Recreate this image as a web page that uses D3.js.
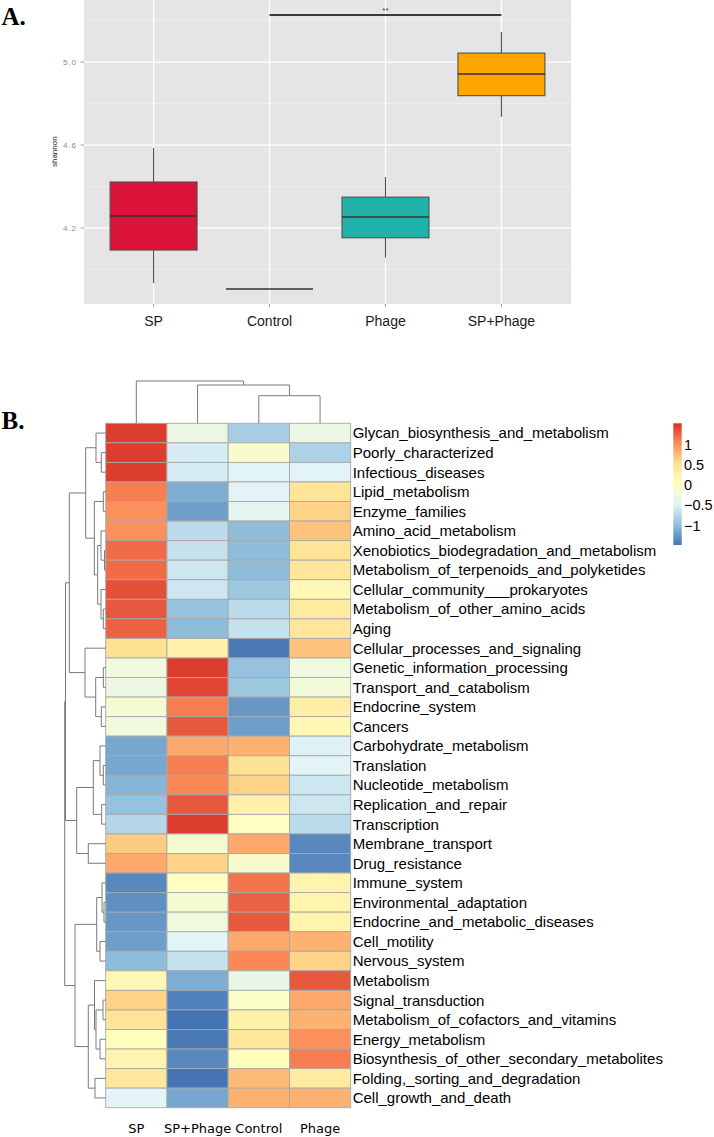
<!DOCTYPE html>
<html><head><meta charset="utf-8">
<script src="https://cdn.jsdelivr.net/npm/d3@7"></script>
<style>body{margin:0;background:#fff} svg{display:block}</style>
</head><body><svg id="c" width="714" height="1137"></svg>
<script>
// ---------- Panel A data ----------
const groups = ["SP","Control","Phage","SP+Phage"];
const boxFill = ["#DC143C","#DC143C","#20B2AA","#FFA500"];
const whiskerLow  = [3.935, 3.906, 4.057, 4.736];
const q1          = [4.094, 3.906, 4.153, 4.838];
const medianVal   = [4.258, 3.906, 4.253, 4.942];
const q3          = [4.422, 3.906, 4.349, 5.043];
const whiskerHigh = [4.586, 3.906, 4.446, 5.145];
const yTicks = [4.2, 4.6, 5.0];
const yMinor = [4.0, 4.4, 4.8, 5.2];
const sigPair = ["Control","SP+Phage"];
const sigLevel = 5.227;
const sigText = "**";

// ---------- Panel B data ----------
const heatCols = ["SP","SP+Phage","Control","Phage"];
const rowNames = ["Glycan_biosynthesis_and_metabolism","Poorly_characterized","Infectious_diseases","Lipid_metabolism","Enzyme_families","Amino_acid_metabolism","Xenobiotics_biodegradation_and_metabolism","Metabolism_of_terpenoids_and_polyketides","Cellular_community___prokaryotes","Metabolism_of_other_amino_acids","Aging","Cellular_processes_and_signaling","Genetic_information_processing","Transport_and_catabolism","Endocrine_system","Cancers","Carbohydrate_metabolism","Translation","Nucleotide_metabolism","Replication_and_repair","Transcription","Membrane_transport","Drug_resistance","Immune_system","Environmental_adaptation","Endocrine_and_metabolic_diseases","Cell_motility","Nervous_system","Metabolism","Signal_transduction","Metabolism_of_cofactors_and_vitamins","Energy_metabolism","Biosynthesis_of_other_secondary_metabolites","Folding,_sorting_and_degradation","Cell_growth_and_death"];
const valSP      = [1.45,1.45,1.45,1.1,1.0,1.0,1.2,1.2,1.35,1.3,1.25,0.5,-0.25,-0.3,-0.15,-0.25,-1.15,-1.15,-1.05,-0.95,-0.75,0.65,0.85,-1.35,-1.3,-1.25,-1.2,-1.0,0.15,0.6,0.45,0.05,0.2,0.4,-0.45];
const valSPPhage = [-0.3,-0.55,-0.55,-1.1,-1.2,-0.7,-0.65,-0.6,-0.6,-0.95,-1.0,0.25,1.45,1.4,1.1,1.3,0.85,1.1,1.05,1.3,1.45,-0.15,0.6,0.0,-0.15,-0.25,-0.45,-0.65,-1.1,-1.4,-1.5,-1.45,-1.35,-1.5,-1.15];
const valControl = [-0.85,-0.1,-0.45,-0.45,-0.4,-1.0,-1.0,-1.0,-0.9,-0.7,-0.65,-1.45,-0.95,-0.9,-1.25,-1.2,0.8,0.5,0.6,0.25,0.0,0.85,-0.1,1.15,1.25,1.3,0.85,1.05,-0.35,-0.05,0.25,0.4,0.05,0.75,0.8];
const valPhage   = [-0.3,-0.8,-0.45,0.45,0.6,0.7,0.45,0.4,0.15,0.35,0.4,0.7,-0.25,-0.2,0.3,0.15,-0.5,-0.45,-0.6,-0.6,-0.7,-1.35,-1.35,0.2,0.2,0.2,0.8,0.6,1.3,0.85,0.8,1.0,1.1,0.35,0.8];
const legendTicks = [-1, -0.5, 0, 0.5, 1];
const legendLabels = ["\u22121", "\u22120.5", "0", "0.5", "1"];
const colorRange = [-1.48, 1.52];
const palette = ["#4575b4","#91bfdb","#e0f3f8","#ffffbf","#fee090","#fc8d59","#d73027"];
// dendrograms: [left, right, mergeHeight]; leaves are indices
const colTree = [0, [1, [2, 3, 27.6], 38.3], 42.3];
const rowTree = [
  [
    [
      [[0, [1, 2, 4.4], 9.7],
       [[3, 4, 2.4], [[5, [6, 7, 1.2], 4.7], [8, [9, 10, 2.4], 4.7], 8], 11.4], 20],
      [11, [[12, 13, 2.4], [14, 15, 4.4], 10], 20.7], 36.4],
    [[[16, [17, 18, 2.4], 5.7], [19, 20, 4], 12.4], [21, 22, 17.4], 29], 40.2],
  [
    [[23, [24, 25, 1.7], 3.7], [26, 27, 5.7], 9],
    [[28, [[29, 30, 2.7], [31, 32, 5.7], 9.7], 11.2], [33, 34, 10.7], 17.4], 30.7],
  41];

const svg = d3.select("#c");
svg.append("rect").attr("width",714).attr("height",1137).attr("fill","#fff");
const sans = "'Liberation Sans', Arial, Helvetica, sans-serif";
const serif = "'Liberation Serif', 'Times New Roman', serif";

// ================= Panel A =================
const pA = {l:84, r:571, t:0, b:304};
const x = d3.scalePoint().domain(groups).range([pA.l, pA.r]).padding(0.6);
const y = d3.scaleLinear().domain([3.834, 5.299]).range([pA.b, pA.t]);
const gA = svg.append("g");
gA.append("rect").attr("x",pA.l).attr("y",pA.t).attr("width",pA.r-pA.l).attr("height",pA.b-pA.t).attr("fill","#e5e5e5");
gA.selectAll(".mn").data(yMinor).join("line")
  .attr("x1",pA.l).attr("x2",pA.r).attr("y1",d=>y(d)).attr("y2",d=>y(d))
  .attr("stroke","#f2f2f2").attr("stroke-width",0.7);
gA.selectAll(".mj").data(yTicks).join("line")
  .attr("x1",pA.l).attr("x2",pA.r).attr("y1",d=>y(d)).attr("y2",d=>y(d))
  .attr("stroke","#fff").attr("stroke-width",1.3);
gA.selectAll(".vg").data(groups).join("line")
  .attr("x1",d=>x(d)).attr("x2",d=>x(d)).attr("y1",pA.t).attr("y2",pA.b)
  .attr("stroke","#fff").attr("stroke-width",1.3);

const bw = x.step()*0.75;
const boxes = gA.selectAll(".bx").data(groups).join("g");
boxes.append("line").attr("x1",d=>x(d)).attr("x2",d=>x(d))
  .attr("y1",(d,i)=>y(whiskerHigh[i])).attr("y2",(d,i)=>y(q3[i]))
  .attr("stroke","#505050").attr("stroke-width",1.1);
boxes.append("line").attr("x1",d=>x(d)).attr("x2",d=>x(d))
  .attr("y1",(d,i)=>y(q1[i])).attr("y2",(d,i)=>y(whiskerLow[i]))
  .attr("stroke","#505050").attr("stroke-width",1.1);
boxes.append("rect").attr("x",d=>x(d)-bw/2).attr("width",bw)
  .attr("y",(d,i)=>y(q3[i])).attr("height",(d,i)=>y(q1[i])-y(q3[i]))
  .attr("fill",(d,i)=>boxFill[i]).attr("stroke","#505050").attr("stroke-width",1.1);
boxes.append("line").attr("x1",d=>x(d)-bw/2).attr("x2",d=>x(d)+bw/2)
  .attr("y1",(d,i)=>y(medianVal[i])).attr("y2",(d,i)=>y(medianVal[i]))
  .attr("stroke","#333").attr("stroke-width",1.5);

// significance bar
gA.append("line").attr("x1",x(sigPair[0])).attr("x2",x(sigPair[1]))
  .attr("y1",y(sigLevel)).attr("y2",y(sigLevel)).attr("stroke","#000").attr("stroke-width",1.6);
gA.append("text").attr("x",(x(sigPair[0])+x(sigPair[1]))/2).attr("y",y(sigLevel)-1.5)
  .attr("text-anchor","middle").attr("font-family",sans).attr("font-size",8).attr("fill","#333").text(sigText);

// axes
gA.selectAll(".yt").data(yTicks).join("line")
  .attr("x1",pA.l-3.5).attr("x2",pA.l).attr("y1",d=>y(d)).attr("y2",d=>y(d))
  .attr("stroke","#808080").attr("stroke-width",0.8);
gA.selectAll(".ytl").data(yTicks).join("text")
  .attr("x",pA.l-7).attr("y",d=>y(d)+3).attr("text-anchor","end")
  .attr("font-family",sans).attr("font-size",8).attr("letter-spacing",1).attr("fill","#8a8a8a")
  .text(d=>d3.format(".1f")(d));
gA.selectAll(".xt").data(groups).join("line")
  .attr("x1",d=>x(d)).attr("x2",d=>x(d)).attr("y1",pA.b).attr("y2",pA.b+3)
  .attr("stroke","#808080").attr("stroke-width",0.8);
gA.selectAll(".xtl").data(groups).join("text")
  .attr("x",d=>x(d)).attr("y",326).attr("text-anchor","middle")
  .attr("font-family",sans).attr("font-size",14).attr("fill","#1a1a1a").text(d=>d);
gA.append("text").attr("transform","translate(56.5,151.7) rotate(-90)")
  .attr("text-anchor","middle").attr("font-family",sans).attr("font-size",8).attr("fill","#1a1a1a").text("shannon");
svg.append("text").attr("x",1.5).attr("y",25).attr("font-family",serif).attr("font-weight","bold")
  .attr("font-size",25).attr("fill","#000").text("A.");

// ================= Panel B =================
svg.append("text").attr("x",1.5).attr("y",428.5).attr("font-family",serif).attr("font-weight","bold")
  .attr("font-size",25).attr("fill","#000").text("B.");
const hx = d3.scaleBand().domain(heatCols).range([105.7, 350.7]);
const hy = d3.scaleBand().domain(rowNames).range([423.3, 1107.7]);
const stops = palette.map((c,i)=>colorRange[0] + i*(colorRange[1]-colorRange[0])/(palette.length-1));
const color = d3.scaleLinear().domain(stops).range(palette).interpolate(d3.interpolateRgb).clamp(true);
const colVals = [valSP, valSPPhage, valControl, valPhage];
const cells = [];
heatCols.forEach((c,j)=>rowNames.forEach((r,i)=>cells.push({c, r, v: colVals[j][i]})));
const gB = svg.append("g");
gB.selectAll("rect.cell").data(cells).join("rect")
  .attr("x",d=>hx(d.c)).attr("y",d=>hy(d.r)).attr("width",hx.bandwidth()).attr("height",hy.bandwidth())
  .attr("fill",d=>color(d.v)).attr("stroke","#a8a8a8").attr("stroke-width",0.9);
gB.selectAll("text.rl").data(rowNames).join("text")
  .attr("x",352.7).attr("y",d=>hy(d)+hy.bandwidth()/2+5.4)
  .attr("font-family",sans).attr("font-size",15).attr("fill","#000").text(d=>d);
gB.selectAll("text.cl").data(heatCols).join("text")
  .attr("x",d=>hx(d)+hx.bandwidth()/2).attr("y",1133)
  .attr("text-anchor","middle").attr("font-family","'DejaVu Sans', Verdana, sans-serif").attr("font-size",13)
  .attr("fill","#000").text(d=>d);

// dendrograms
const rowH = d3.scaleLinear().domain([0, 41]).range([105.7, 64.7]);
const colH = d3.scaleLinear().domain([0, 42.3]).range([423.3, 381]);
const rowSegs = [], colSegs = [];
function layRow(n){
  if (typeof n === "number") return {p: hy(rowNames[n]) + hy.bandwidth()/2, h: 0};
  const a = layRow(n[0]), b = layRow(n[1]), h = n[2];
  rowSegs.push(`M${rowH(a.h)},${a.p}H${rowH(h)}V${b.p}H${rowH(b.h)}`);
  return {p:(a.p+b.p)/2, h};
}
function layCol(n){
  if (typeof n === "number") return {p: hx(heatCols[n]) + hx.bandwidth()/2, h: 0};
  const a = layCol(n[0]), b = layCol(n[1]), h = n[2];
  colSegs.push(`M${a.p},${colH(a.h)}V${colH(h)}H${b.p}V${colH(b.h)}`);
  return {p:(a.p+b.p)/2, h};
}
layRow(rowTree); layCol(colTree);
gB.selectAll("path.rd").data(rowSegs).join("path").attr("d",d=>d)
  .attr("fill","none").attr("stroke","#7a7a7a").attr("stroke-width",1);
gB.selectAll("path.cd").data(colSegs).join("path").attr("d",d=>d)
  .attr("fill","none").attr("stroke","#7a7a7a").attr("stroke-width",1);

// legend
const ly = d3.scaleLinear().domain(colorRange).range([545, 423.3]);
const defs = svg.append("defs");
const grad = defs.append("linearGradient").attr("id","lg").attr("x1",0).attr("x2",0).attr("y1",1).attr("y2",0);
grad.selectAll("stop").data(stops).join("stop")
  .attr("offset",(d,i)=>i/(stops.length-1)).attr("stop-color",d=>color(d));
gB.append("rect").attr("x",673.3).attr("y",ly(colorRange[1])).attr("width",8.4)
  .attr("height",ly(colorRange[0])-ly(colorRange[1])).attr("fill","url(#lg)");
gB.selectAll("text.lt").data(legendTicks).join("text")
  .attr("x",684).attr("y",d=>ly(d)+5.2).attr("font-family",sans).attr("font-size",14.5)
  .attr("fill","#000").text((d,i)=>legendLabels[i]);
</script></body></html>
